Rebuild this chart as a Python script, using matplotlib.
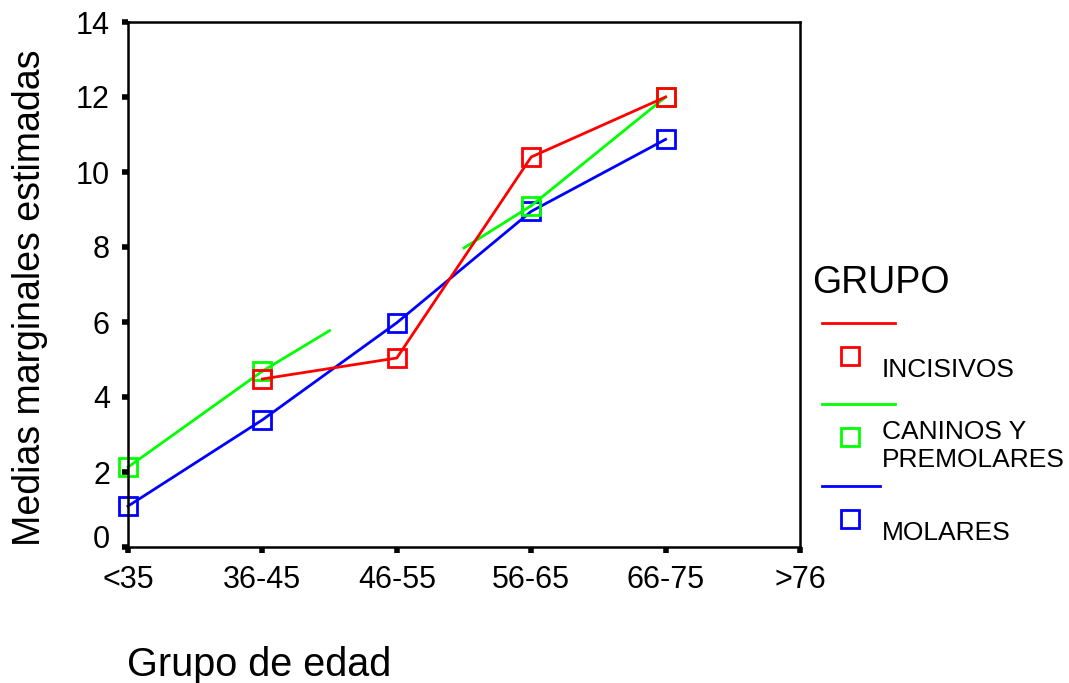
import numpy as np
import matplotlib.pyplot as plt
from matplotlib.lines import Line2D
from matplotlib import transforms

plt.rcParams['font.family'] = ['Liberation Sans', 'DejaVu Sans']

grupos_edad = ['<35', '36-45', '46-55', '56-65', '66-75', '>76']
incisivos = [np.nan, 4.48, 5.04, 10.4, 12.0]
caninos = [2.13, 4.69, 6.85, 9.1, 12.0]
molares = [1.09, 3.39, 5.98, 8.95, 10.87]
# 46-55 has no marker for caninos; the line only runs half way to it
caninos_sin_marca = [2]

rojo, verde, azul = '#ff0000', '#00ff00', '#0000ff'

W, H = 1069, 683
fig = plt.figure(figsize=(W / 100, H / 100), dpi=100)
ax = fig.add_axes([128 / W, 1 - 547 / H, (800 - 128) / W, (547 - 22) / H])

x = np.arange(len(incisivos))
lw, ms, mew = 2.0, 13.5, 2.0

ax.plot(x, molares, color=azul, lw=lw, clip_on=False,
        marker='s', ms=ms, mfc='none', mec=azul, mew=mew)

# caninos: half segments around the unmarked point
c = np.array(caninos)
for i in range(len(c) - 1):
    x0, x1, y0, y1 = x[i], x[i + 1], c[i], c[i + 1]
    if i in caninos_sin_marca:
        x0, y0 = (x0 + x1) / 2, (y0 + y1) / 2
    if i + 1 in caninos_sin_marca:
        x1, y1 = (x0 + x1) / 2, (y0 + y1) / 2
    ax.plot([x0, x1], [y0, y1], color=verde, lw=lw, clip_on=False)
mk = [i for i in range(len(c)) if i not in caninos_sin_marca]
ax.plot(x[mk], c[mk], ls='none', marker='s', ms=ms, mfc='none',
        mec=verde, mew=mew, clip_on=False)

ax.plot(x, incisivos, color=rojo, lw=lw, clip_on=False,
        marker='s', ms=ms, mfc='none', mec=rojo, mew=mew)

ax.set_xlim(0, 5)
ax.set_ylim(0, 14)
ax.set_xticks(range(len(grupos_edad)))
ax.set_xticklabels(grupos_edad)
ax.set_yticks(range(0, 15, 2))
ax.tick_params(direction='out', length=4, width=4, color='black',
               labelsize=22, pad=9)
for s in ax.spines.values():
    s.set_linewidth(1.8)

# lift the "0" label off the x labels
lab0 = ax.get_yticklabels()[0]
lab0.set_transform(lab0.get_transform() +
                   transforms.ScaledTranslation(0, 10 / 100, fig.dpi_scale_trans))

fig.text(30 / W, 1 - 298 / H, 'Medias marginales estimadas', rotation=90,
         ha='center', va='center', fontsize=27)
fig.text(127 / W, 1 - 665 / H, 'Grupo de edad', ha='left', va='center',
         fontsize=28.5)

# legend drawn by hand
fig.text(812 / W, 1 - 283 / H, 'GRUPO', ha='left', va='center', fontsize=27)
entradas = [(rojo, ['INCISIVOS'], 323, 895),
            (verde, ['CANINOS Y', 'PREMOLARES'], 404, 895),
            (azul, ['MOLARES'], 486, 880)]
for color, texto, yl, xr in entradas:
    fig.add_artist(Line2D([822 / W, xr / W], [1 - yl / H, 1 - yl / H],
                          color=color, lw=lw, transform=fig.transFigure))
    fig.add_artist(Line2D([850 / W], [1 - (yl + 33) / H], marker='s', ms=ms,
                          mfc='none', mec=color, mew=mew, ls='none',
                          transform=fig.transFigure))
    if len(texto) == 1:
        fig.text(882 / W, 1 - (yl + 47) / H, texto[0], ha='left',
                 va='center', fontsize=19)
    else:
        fig.text(882 / W, 1 - (yl + 28) / H, texto[0], ha='left',
                 va='center', fontsize=19)
        fig.text(882 / W, 1 - (yl + 56) / H, texto[1], ha='left',
                 va='center', fontsize=19)

fig.savefig('out.png', dpi=100)
